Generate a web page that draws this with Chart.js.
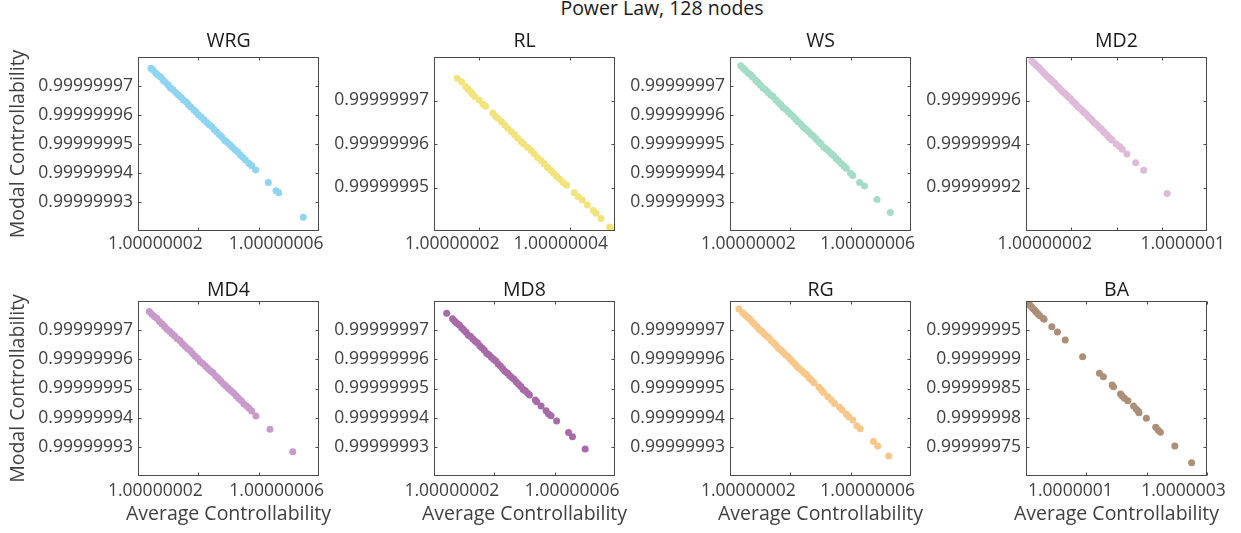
<!DOCTYPE html>
<html>
<head>
<meta charset="utf-8">
<script src="https://cdn.jsdelivr.net/npm/chart.js@4.4.1/dist/chart.umd.min.js"></script>
<style>
  body { margin: 0; width: 1241px; height: 533px; overflow: hidden; background: #fff; position: relative; font-family: "Open Sans", sans-serif; }
  #sup { position: absolute; left: 462px; width: 400px; top: -2px; text-align: center; font-size: 19.5px; line-height: 20px; color: #1a1a1a; }
  canvas { position: absolute; }
</style>
</head>
<body>
<div id="sup">Power Law, 128 nodes</div>
<script>
// panel names
const names = ["WRG", "RL", "WS", "MD2", "MD4", "MD8", "RG", "BA"];
const colors = ["#8fd4f1", "#f3e37c", "#a4dcc8", "#dfbad9", "#c99acb", "#a86aa9", "#f7c88a", "#ad8f78"];

// WRG
const wrgX = [0.9999999886, 0.9999999900, 0.9999999918, 0.9999999931, 0.9999999950, 0.9999999966, 0.9999999980, 0.9999999999, 1.0000000014, 1.0000000030,
  1.0000000051, 1.0000000066, 1.0000000083, 1.0000000100, 1.0000000118, 1.0000000133, 1.0000000150, 1.0000000171, 1.0000000185, 1.0000000202,
  1.0000000220, 1.0000000237, 1.0000000255, 1.0000000270, 1.0000000288, 1.0000000305, 1.0000000322, 1.0000000340, 1.0000000356, 1.0000000375,
  1.0000000390, 1.0000000408, 1.0000000425, 1.0000000441, 1.0000000460, 1.0000000478, 1.0000000495, 1.0000000512, 1.0000000536,
  1.0000000554, 1.0000000580, 1.0000000664, 1.0000000715, 1.0000000733, 1.0000000896];
const wrgY = [0.9999999761, 0.9999999755, 0.9999999745, 0.9999999738, 0.9999999731, 0.9999999721, 0.9999999714, 0.9999999704, 0.9999999694, 0.9999999688,
  0.9999999678, 0.9999999670, 0.9999999662, 0.9999999653, 0.9999999646, 0.9999999636, 0.9999999628, 0.9999999617, 0.9999999610, 0.9999999600,
  0.9999999592, 0.9999999584, 0.9999999575, 0.9999999567, 0.9999999560, 0.9999999550, 0.9999999541, 0.9999999532, 0.9999999524, 0.9999999512,
  0.9999999507, 0.9999999498, 0.9999999489, 0.9999999481, 0.9999999473, 0.9999999462, 0.9999999454, 0.9999999445, 0.9999999433,
  0.9999999425, 0.9999999410, 0.9999999367, 0.9999999339, 0.9999999332, 0.9999999247];

// RL
const rlX = [1.0000000151, 1.0000000161, 1.0000000170, 1.0000000175, 1.0000000181, 1.0000000185, 1.0000000190, 1.0000000200, 1.0000000208, 1.0000000214,
  1.0000000230, 1.0000000236, 1.0000000241, 1.0000000249, 1.0000000256, 1.0000000263, 1.0000000271, 1.0000000278, 1.0000000285, 1.0000000293,
  1.0000000298, 1.0000000307, 1.0000000315, 1.0000000322, 1.0000000329, 1.0000000337, 1.0000000344, 1.0000000351, 1.0000000359, 1.0000000364,
  1.0000000371, 1.0000000378, 1.0000000386, 1.0000000393, 1.0000000410, 1.0000000419, 1.0000000428, 1.0000000439, 1.0000000452, 1.0000000458,
  1.0000000469, 1.0000000488, 1.0000000494, 1.0000000498];
const rlY = [0.9999999751, 0.9999999743, 0.9999999732, 0.9999999726, 0.9999999720, 0.9999999715, 0.9999999709, 0.9999999701, 0.9999999692, 0.9999999687,
  0.9999999671, 0.9999999664, 0.9999999659, 0.9999999651, 0.9999999644, 0.9999999636, 0.9999999628, 0.9999999621, 0.9999999613, 0.9999999605,
  0.9999999600, 0.9999999592, 0.9999999585, 0.9999999577, 0.9999999569, 0.9999999562, 0.9999999554, 0.9999999546, 0.9999999539, 0.9999999533,
  0.9999999526, 0.9999999519, 0.9999999511, 0.9999999505, 0.9999999488, 0.9999999479, 0.9999999471, 0.9999999460, 0.9999999447, 0.9999999441,
  0.9999999429, 0.9999999409, 0.9999999402, 0.9999999398];

// WS
const wsX = [0.9999999871, 0.9999999888, 0.9999999902, 0.9999999920, 0.9999999937, 0.9999999951, 0.9999999970, 0.9999999986, 1.0000000003, 1.0000000019,
  1.0000000036, 1.0000000052, 1.0000000070, 1.0000000085, 1.0000000103, 1.0000000120, 1.0000000136, 1.0000000152, 1.0000000170, 1.0000000186,
  1.0000000202, 1.0000000220, 1.0000000236, 1.0000000252, 1.0000000270, 1.0000000287, 1.0000000303, 1.0000000320, 1.0000000337, 1.0000000353,
  1.0000000370, 1.0000000387, 1.0000000403, 1.0000000420, 1.0000000437, 1.0000000453, 1.0000000470, 1.0000000487, 1.0000000503, 1.0000000520,
  1.0000000537, 1.0000000555, 1.0000000571, 1.0000000599, 1.0000000614, 1.0000000659, 1.0000000692, 1.0000000775, 1.0000000863];
const wsY = [0.9999999770, 0.9999999761, 0.9999999754, 0.9999999745, 0.9999999739, 0.9999999730, 0.9999999720, 0.9999999712, 0.9999999703, 0.9999999693,
  0.9999999687, 0.9999999678, 0.9999999669, 0.9999999664, 0.9999999653, 0.9999999644, 0.9999999636, 0.9999999626, 0.9999999619, 0.9999999611,
  0.9999999603, 0.9999999595, 0.9999999585, 0.9999999577, 0.9999999568, 0.9999999558, 0.9999999551, 0.9999999543, 0.9999999534, 0.9999999528,
  0.9999999518, 0.9999999509, 0.9999999501, 0.9999999490, 0.9999999484, 0.9999999476, 0.9999999467, 0.9999999460, 0.9999999450, 0.9999999442,
  0.9999999433, 0.9999999424, 0.9999999416, 0.9999999399, 0.9999999391, 0.9999999367, 0.9999999355, 0.9999999309, 0.9999999264];

// MD2
const md2X = [0.9999999851, 0.9999999868, 0.9999999885, 0.9999999902, 0.9999999920, 0.9999999937, 0.9999999954, 0.9999999970, 0.9999999988, 1.0000000005,
  1.0000000022, 1.0000000040, 1.0000000056, 1.0000000073, 1.0000000090, 1.0000000108, 1.0000000125, 1.0000000142, 1.0000000158, 1.0000000176,
  1.0000000193, 1.0000000210, 1.0000000227, 1.0000000244, 1.0000000261, 1.0000000278, 1.0000000295, 1.0000000312, 1.0000000330, 1.0000000347,
  1.0000000364, 1.0000000381, 1.0000000398, 1.0000000415, 1.0000000432, 1.0000000450, 1.0000000467, 1.0000000484, 1.0000000500, 1.0000000517,
  1.0000000535, 1.0000000550, 1.0000000562, 1.0000000597, 1.0000000627, 1.0000000651, 1.0000000692, 1.0000000769, 1.0000000840, 1.0000001047];
const md2Y = [0.9999999782, 0.9999999773, 0.9999999765, 0.9999999756, 0.9999999749, 0.9999999738, 0.9999999729, 0.9999999721, 0.9999999710, 0.9999999703,
  0.9999999694, 0.9999999685, 0.9999999679, 0.9999999668, 0.9999999660, 0.9999999650, 0.9999999640, 0.9999999633, 0.9999999625, 0.9999999616,
  0.9999999609, 0.9999999598, 0.9999999590, 0.9999999581, 0.9999999570, 0.9999999563, 0.9999999555, 0.9999999546, 0.9999999539, 0.9999999528,
  0.9999999519, 0.9999999511, 0.9999999500, 0.9999999493, 0.9999999485, 0.9999999475, 0.9999999469, 0.9999999458, 0.9999999450, 0.9999999441,
  0.9999999430, 0.9999999424, 0.9999999418, 0.9999999400, 0.9999999388, 0.9999999376, 0.9999999354, 0.9999999314, 0.9999999279, 0.9999999172];

// MD4
const md4X = [0.9999999875, 0.9999999892, 0.9999999908, 0.9999999925, 0.9999999942, 0.9999999960, 0.9999999976, 0.9999999992, 1.0000000010, 1.0000000026,
  1.0000000043, 1.0000000060, 1.0000000077, 1.0000000094, 1.0000000111, 1.0000000128, 1.0000000145, 1.0000000162, 1.0000000179, 1.0000000196,
  1.0000000213, 1.0000000230, 1.0000000247, 1.0000000264, 1.0000000281, 1.0000000298, 1.0000000315, 1.0000000332, 1.0000000349, 1.0000000366,
  1.0000000383, 1.0000000400, 1.0000000417, 1.0000000434, 1.0000000451, 1.0000000468, 1.0000000485, 1.0000000502, 1.0000000519, 1.0000000536,
  1.0000000554, 1.0000000582, 1.0000000675, 1.0000000826];
const md4Y = [0.9999999764, 0.9999999755, 0.9999999747, 0.9999999741, 0.9999999730, 0.9999999721, 0.9999999713, 0.9999999703, 0.9999999696, 0.9999999688,
  0.9999999680, 0.9999999671, 0.9999999665, 0.9999999654, 0.9999999646, 0.9999999637, 0.9999999630, 0.9999999620, 0.9999999611, 0.9999999603,
  0.9999999592, 0.9999999586, 0.9999999577, 0.9999999569, 0.9999999560, 0.9999999554, 0.9999999543, 0.9999999535, 0.9999999526, 0.9999999516,
  0.9999999509, 0.9999999500, 0.9999999492, 0.9999999485, 0.9999999475, 0.9999999466, 0.9999999458, 0.9999999447, 0.9999999441, 0.9999999432,
  0.9999999423, 0.9999999406, 0.9999999360, 0.9999999283];

// MD8
const md8X = [0.9999999884, 0.9999999923, 0.9999999938, 0.9999999952, 0.9999999968, 0.9999999983, 0.9999999998, 1.0000000013, 1.0000000028, 1.0000000043,
  1.0000000058, 1.0000000074, 1.0000000089, 1.0000000104, 1.0000000119, 1.0000000134, 1.0000000149, 1.0000000164, 1.0000000180, 1.0000000195,
  1.0000000210, 1.0000000225, 1.0000000240, 1.0000000255, 1.0000000270, 1.0000000286, 1.0000000301, 1.0000000316, 1.0000000331, 1.0000000346,
  1.0000000361, 1.0000000376, 1.0000000391, 1.0000000406, 1.0000000421, 1.0000000433, 1.0000000472, 1.0000000481, 1.0000000510, 1.0000000543,
  1.0000000560, 1.0000000576, 1.0000000613, 1.0000000692, 1.0000000718, 1.0000000802];
const md8Y = [0.9999999758, 0.9999999739, 0.9999999731, 0.9999999724, 0.9999999718, 0.9999999708, 0.9999999701, 0.9999999693, 0.9999999683, 0.9999999678,
  0.9999999670, 0.9999999662, 0.9999999656, 0.9999999646, 0.9999999639, 0.9999999631, 0.9999999621, 0.9999999616, 0.9999999607, 0.9999999600,
  0.9999999594, 0.9999999584, 0.9999999577, 0.9999999569, 0.9999999559, 0.9999999553, 0.9999999545, 0.9999999538, 0.9999999532, 0.9999999522,
  0.9999999515, 0.9999999507, 0.9999999497, 0.9999999492, 0.9999999484, 0.9999999478, 0.9999999461, 0.9999999455, 0.9999999440, 0.9999999424,
  0.9999999413, 0.9999999407, 0.9999999389, 0.9999999349, 0.9999999335, 0.9999999293];

// RG
const rgX = [0.9999999859, 0.9999999884, 0.9999999900, 0.9999999916, 0.9999999932, 0.9999999948, 0.9999999963, 0.9999999979, 0.9999999995, 1.0000000011,
  1.0000000026, 1.0000000042, 1.0000000058, 1.0000000074, 1.0000000090, 1.0000000105, 1.0000000121, 1.0000000137, 1.0000000152, 1.0000000168,
  1.0000000184, 1.0000000200, 1.0000000215, 1.0000000231, 1.0000000247, 1.0000000262, 1.0000000278, 1.0000000294, 1.0000000310, 1.0000000326,
  1.0000000341, 1.0000000357, 1.0000000390, 1.0000000406, 1.0000000421, 1.0000000449, 1.0000000472, 1.0000000493, 1.0000000526, 1.0000000544,
  1.0000000571, 1.0000000588, 1.0000000614, 1.0000000641, 1.0000000663, 1.0000000751, 1.0000000779, 1.0000000852];
const rgY = [0.9999999773, 0.9999999760, 0.9999999752, 0.9999999744, 0.9999999738, 0.9999999728, 0.9999999720, 0.9999999712, 0.9999999702, 0.9999999696,
  0.9999999688, 0.9999999680, 0.9999999674, 0.9999999664, 0.9999999656, 0.9999999648, 0.9999999638, 0.9999999632, 0.9999999624, 0.9999999616,
  0.9999999610, 0.9999999600, 0.9999999592, 0.9999999584, 0.9999999574, 0.9999999568, 0.9999999560, 0.9999999552, 0.9999999546, 0.9999999536,
  0.9999999528, 0.9999999520, 0.9999999504, 0.9999999495, 0.9999999486, 0.9999999472, 0.9999999461, 0.9999999449, 0.9999999436, 0.9999999426,
  0.9999999413, 0.9999999403, 0.9999999392, 0.9999999372, 0.9999999362, 0.9999999318, 0.9999999303, 0.9999999269];

// BA
const baX = [1.0000000005, 1.0000000038, 1.0000000067, 1.0000000095, 1.0000000122, 1.0000000150, 1.0000000172, 1.0000000200, 1.0000000228, 1.0000000283,
  1.0000000300, 1.0000000428, 1.0000000522, 1.0000000650, 1.0000000938, 1.0000001217, 1.0000001283, 1.0000001428, 1.0000001450, 1.0000001567,
  1.0000001595, 1.0000001633, 1.0000001688, 1.0000001783, 1.0000001828, 1.0000001862, 1.0000001872, 1.0000001995, 1.0000002150, 1.0000002188,
  1.0000002228, 1.0000002467, 1.0000002745];
const baY = [0.9999999987, 0.9999999960, 0.9999999926, 0.9999999892, 0.9999999862, 0.9999999833, 0.9999999806, 0.9999999777, 0.9999999748, 0.9999999703,
  0.9999999686, 0.9999999559, 0.9999999468, 0.9999999331, 0.9999999045, 0.9999998760, 0.9999998702, 0.9999998560, 0.9999998531, 0.9999998405,
  0.9999998371, 0.9999998332, 0.9999998291, 0.9999998200, 0.9999998143, 0.9999998109, 0.9999998085, 0.9999997989, 0.9999997835, 0.9999997788,
  0.9999997749, 0.9999997514, 0.9999997228];

// axis limits
const xMin = [0.99999998, 1.00000001, 0.99999998, 0.99999998, 0.99999998, 0.99999998, 0.99999998, 1.0];
const xMax = [1.0000001, 1.00000005, 1.0000001, 1.00000014, 1.0000001, 1.0000001, 1.0000001, 1.0000003];
const yMin = [0.99999992, 0.99999994, 0.99999992, 0.9999999, 0.99999992, 0.99999992, 0.99999992, 0.9999997];
const yMax = [0.99999998, 0.99999998, 0.99999998, 0.99999998, 0.99999998, 0.99999998, 0.99999998, 1.0];

// tick values and labels
const xTicks = [
  [1.00000002, 1.00000006], [1.00000002, 1.00000004], [1.00000002, 1.00000006], [1.00000002, 1.00000006, 1.0000001],
  [1.00000002, 1.00000006], [1.00000002, 1.00000006], [1.00000002, 1.00000006], [1.0000001, 1.0000002, 1.0000003]
];
const xTickLabels = [
  ["1.00000002", "1.00000006"], ["1.00000002", "1.00000004"], ["1.00000002", "1.00000006"], ["1.00000002", "", "1.0000001"],
  ["1.00000002", "1.00000006"], ["1.00000002", "1.00000006"], ["1.00000002", "1.00000006"], ["1.0000001", "", "1.0000003"]
];
const yTicks5 = [0.99999993, 0.99999994, 0.99999995, 0.99999996, 0.99999997];
const yLabels5 = ["0.99999993", "0.99999994", "0.99999995", "0.99999996", "0.99999997"];
const rlYTicks = [0.99999995, 0.99999996, 0.99999997];
const rlYLabels = ["0.99999995", "0.99999996", "0.99999997"];
const md2YTicks = [0.99999992, 0.99999994, 0.99999996];
const md2YLabels = ["0.99999992", "0.99999994", "0.99999996"];
const baYTicks = [0.99999975, 0.9999998, 0.99999985, 0.9999999, 0.99999995];
const baYLabels = ["0.99999975", "0.9999998", "0.99999985", "0.9999999", "0.99999995"];

// label nudges (px) for the x tick labels, as in the figure
const xLabelShift = [[-43, 17.5], [-27, -9], [-42, 17], [-26.5, 0, 21], [-43, 18], [-42.5, 17.5], [-42, 17], [-16, 0, -23.5]];

const panels = [
  { x: wrgX, y: wrgY, yt: yTicks5, ytl: yLabels5 },
  { x: rlX, y: rlY, yt: rlYTicks, ytl: rlYLabels },
  { x: wsX, y: wsY, yt: yTicks5, ytl: yLabels5 },
  { x: md2X, y: md2Y, yt: md2YTicks, ytl: md2YLabels },
  { x: md4X, y: md4Y, yt: yTicks5, ytl: yLabels5 },
  { x: md8X, y: md8Y, yt: yTicks5, ytl: yLabels5 },
  { x: rgX, y: rgY, yt: yTicks5, ytl: yLabels5 },
  { x: baX, y: baY, yt: baYTicks, ytl: baYLabels }
];

const FONT = '"Open Sans", sans-serif';
Chart.defaults.font.family = FONT;

// matlab-like box with inward ticks on all four sides, x tick labels and axis titles
const frame = {
  id: "frame",
  afterDraw(chart, args, opts) {
    const { ctx, chartArea: a, scales: { x, y } } = chart;
    const L = Math.round(a.left) + 0.5, R = Math.round(a.right) - 0.5;
    const T = Math.round(a.top) + 0.5, B = Math.round(a.bottom) - 0.5;
    ctx.save();
    ctx.strokeStyle = "#4a4a4a";
    ctx.lineWidth = 1;
    ctx.strokeRect(L, T, R - L, B - T);
    ctx.beginPath();
    x.ticks.forEach(t => {
      const p = Math.round(x.getPixelForValue(t.value)) + 0.5;
      ctx.moveTo(p, B); ctx.lineTo(p, B - 3);
      ctx.moveTo(p, T); ctx.lineTo(p, T + 3);
    });
    y.ticks.forEach(t => {
      const p = Math.round(y.getPixelForValue(t.value)) + 0.5;
      ctx.moveTo(L, p); ctx.lineTo(L + 3, p);
      ctx.moveTo(R, p); ctx.lineTo(R - 3, p);
    });
    ctx.stroke();
    ctx.fillStyle = "#404040";
    ctx.textAlign = "center";
    ctx.textBaseline = "middle";
    ctx.font = "17.5px " + FONT;
    x.ticks.forEach((t, i) => {
      const s = opts.labels[i];
      if (s) ctx.fillText(s, x.getPixelForValue(t.value) + opts.shift[i], a.bottom + opts.gap);
    });
    ctx.font = "19.5px " + FONT;
    if (opts.xTitle) ctx.fillText(opts.xTitle, (a.left + a.right) / 2, a.bottom + 38);
    if (opts.yTitle) {
      ctx.translate(18, (a.top + a.bottom) / 2);
      ctx.rotate(-Math.PI / 2);
      ctx.fillText(opts.yTitle, 0, 0);
    }
    ctx.restore();
  }
};

panels.forEach((p, i) => {
  const col = i % 4, row = Math.floor(i / 4);
  const W = 344, H = row ? 289 : 262;
  const boxBottom = row ? 232 : 231;
  const cv = document.createElement("canvas");
  cv.width = W; cv.height = H;
  cv.style.left = (296 * col) + "px";
  cv.style.top = (row ? 244 : 0) + "px";
  document.body.appendChild(cv);

  new Chart(cv, {
    type: "scatter",
    data: {
      datasets: [{
        data: p.x.map((v, k) => ({ x: v, y: p.y[k] })),
        backgroundColor: colors[i],
        borderWidth: 0,
        pointRadius: 3.5
      }]
    },
    options: {
      responsive: false,
      animation: false,
      events: [],
      devicePixelRatio: 1,
      layout: { padding: { left: 0, right: W - 319, top: 0, bottom: 0 } },
      plugins: {
        legend: { display: false },
        tooltip: { enabled: false },
        title: {
          display: true,
          text: names[i],
          fullSize: false,
          color: "#1a1a1a",
          font: { size: 19.5, weight: "normal", lineHeight: 1 },
          padding: row ? { top: 36.25, bottom: 1.25 } : { top: 31.75, bottom: 5.75 }
        },
        frame: {
          labels: xTickLabels[i],
          shift: xLabelShift[i],
          gap: row ? 15.5 : 13.5,
          xTitle: row === 1 ? "Average Controllability" : "",
          yTitle: col === 0 ? "Modal Controllability" : ""
        }
      },
      scales: {
        x: {
          type: "linear",
          position: "bottom",
          min: xMin[i],
          max: xMax[i],
          bounds: "data",
          grid: { display: false, drawTicks: false },
          border: { display: false },
          ticks: { display: false },
          afterBuildTicks: s => { s.ticks = xTicks[i].map(v => ({ value: v })); },
          afterFit: s => { s.height = H - boxBottom; }
        },
        y: {
          type: "linear",
          position: "left",
          min: yMin[i],
          max: yMax[i],
          bounds: "data",
          grid: { display: false, drawTicks: false },
          border: { display: false },
          ticks: {
            autoSkip: false,
            padding: 5,
            color: "#404040",
            font: { size: 17.5 },
            callback: (v, k) => p.ytl[k]
          },
          afterBuildTicks: s => { s.ticks = p.yt.map(v => ({ value: v })); },
          afterFit: s => { s.width = 138; }
        }
      }
    },
    plugins: [frame]
  });
});
</script>
</body>
</html>
